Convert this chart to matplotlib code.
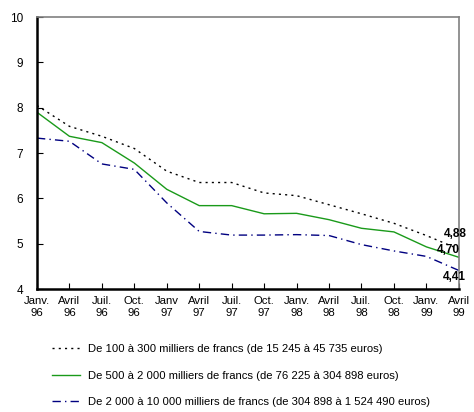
import matplotlib
matplotlib.use("Agg")
import matplotlib.pyplot as plt

plt.rcParams['font.family'] = ['Liberation Sans', 'DejaVu Sans']

months = ["Janv.\n96", "Avril\n96", "Juil.\n96", "Oct.\n96", "Janv\n97", "Avril\n97", "Juil.\n97",
          "Oct.\n97", "Janv.\n98", "Avril\n98", "Juil.\n98", "Oct.\n98", "Janv.\n99", "Avril\n99"]
small = [8.05, 7.59, 7.37, 7.10, 6.60, 6.35, 6.35, 6.12, 6.06, 5.86, 5.66, 5.45, 5.18, 4.88]
medium = [7.90, 7.37, 7.23, 6.78, 6.20, 5.84, 5.84, 5.66, 5.67, 5.53, 5.34, 5.26, 4.93, 4.70]
large = [7.33, 7.26, 6.76, 6.64, 5.90, 5.27, 5.19, 5.19, 5.20, 5.18, 4.98, 4.84, 4.72, 4.41]
labels = ["De 100 à 300 milliers de francs (de 15 245 à 45 735 euros)",
          "De 500 à 2 000 milliers de francs (de 76 225 à 304 898 euros)",
          "De 2 000 à 10 000 milliers de francs (de 304 898 à 1 524 490 euros)"]
end_labels = ["4,88", "4,70", "4,41"]

fig = plt.figure(figsize=(4.74, 4.12), dpi=100)
ax = fig.add_axes([0.078, 0.2985, 0.890, 0.660])
x = list(range(len(months)))

l1, = ax.plot(x, small, color='black', lw=1.0, linestyle=(0, (1.5, 3)))
l2, = ax.plot(x, medium, color='#1a9a1a', lw=1.0, linestyle='-')
l3, = ax.plot(x, large, color='#000080', lw=1.0, linestyle=(0, (6, 3, 1, 3)))

ax.set_xlim(0, len(months) - 1)
ax.set_ylim(4, 10)
ax.set_yticks([4, 5, 6, 7, 8, 9, 10])
ax.set_xticks(x)
ax.set_xticklabels(months, fontsize=8.2, linespacing=1.3)
ax.tick_params(axis='y', labelsize=8.5, direction='in', length=4, pad=10)
ax.tick_params(axis='x', direction='in', length=4, pad=5)

for s in ['left', 'bottom']:
    ax.spines[s].set_linewidth(1.8)
    ax.spines[s].set_color('black')
for s in ['top', 'right']:
    ax.spines[s].set_linewidth(1.2)
    ax.spines[s].set_color('#808080')

last = len(months) - 1
ax.annotate(end_labels[0], (last, small[-1]), xytext=(-11, 11), textcoords='offset points',
            fontsize=8.5, fontweight='bold', ha='left', va='center')
ax.annotate(end_labels[1], (last, medium[-1]), xytext=(-16, 5), textcoords='offset points',
            fontsize=8.5, fontweight='bold', ha='left', va='center')
ax.annotate(end_labels[2], (last, large[-1]), xytext=(-11.5, -4.5), textcoords='offset points',
            fontsize=8.5, fontweight='bold', ha='left', va='center')

fig.legend([l1, l2, l3], labels, loc='upper left', bbox_to_anchor=(0.10, 0.175),
           frameon=False, fontsize=8.1, handlelength=2.5, handletextpad=0.7,
           labelspacing=1.45, borderaxespad=0)

fig.savefig("out.png", dpi=100)
